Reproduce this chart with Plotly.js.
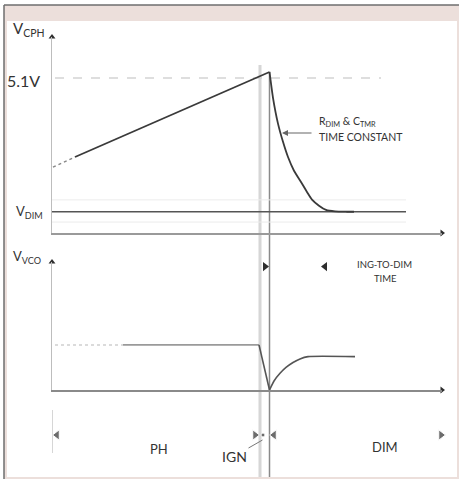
<!DOCTYPE html>
<html>
<head>
<meta charset="utf-8">
<script src="https://cdn.plot.ly/plotly-3.0.1.min.js"></script>
<style>html,body{margin:0;padding:0;background:#fff;}#chart{width:459px;height:479px;}</style>
</head>
<body>
<div id="chart"></div>
<script>
// ---- data (time units, volts) ----
var cphStartT = [0.1, 0.7, 1.5, 2.3];
var cphStartV = [2.17, 2.26, 2.38, 2.5];
var cphRampT = [2.3, 21.75];
var cphRampV = [2.5, 5.30];
var cphDecayT = [21.75, 22.1, 22.6, 23.1, 23.6, 24.2, 24.9, 25.5, 26.0, 26.7, 27.4, 28.3, 29.5, 30.2];
var cphDecayV = [5.30, 4.45, 3.60, 3.00, 2.50, 2.05, 1.68, 1.35, 1.10, 0.90, 0.76, 0.71, 0.70, 0.70];
var vRefT = [0.3, 32.9];
var vRefV = [5.1, 5.1];
var vDimT = [0, 35.4];
var vDimV = [0.70, 0.70];
var guideT = [0, 35.4];
var guideHiV = [1.09, 1.09];
var guideLoV = [0.36, 0.36];

var vcoStartT = [0.3, 7.1];
var vcoStartV = [1.0, 1.0];
var vcoLevelT = [7.1, 20.7];
var vcoLevelV = [1.0, 1.0];
var vcoDropT = [20.7, 21.75];
var vcoDropV = [1.0, 0];
var vcoRecT = [21.75, 22.2, 22.8, 23.4, 24.1, 24.8, 25.6, 30.3];
var vcoRecV = [0, 0.20, 0.37, 0.50, 0.61, 0.69, 0.74, 0.74];

var eventT = [20.8, 21.75];          // IGN start, DIM start
var ingDimT = [21.3, 27.3];          // ING-TO-DIM arrow marks
var ingDimV = [2.74, 2.74];
var phaseT = [0.5, 20.3, 21.1, 22.2, 38.9];
var phaseSym = ['triangle-left', 'triangle-right', 'circle', 'triangle-left', 'triangle-right'];
var phaseSize = [9, 9, 4, 9, 9];

var tMax = 39, cphMax = 6.45, vcoMax = 2.84;

// ---- layout helpers ----
var W = 459, H = 479;
function px(x) { return x / W; }
function py(y) { return 1 - y / H; }

var dark = '#2e2e2e', mid = '#8a8a8a', light = '#d6d6d6';
var FONT = 'Lato, "Noto Sans", sans-serif';

function line(x, y, xa, ya, color, width, dash, shape) {
  return {x: x, y: y, xaxis: xa, yaxis: ya, mode: 'lines', hoverinfo: 'skip',
    line: {color: color, width: width, dash: dash || 'solid', shape: shape || 'linear', smoothing: 0.6}};
}

var traces = [
  line(guideT, guideHiV, 'x', 'y', '#ececec', 1),
  line(guideT, guideLoV, 'x', 'y', '#ececec', 1),
  line(vRefT, vRefV, 'x', 'y', '#d4d4d4', 1.5, 'dash'),
  line(vDimT, vDimV, 'x', 'y', '#555', 1.5),
  line(cphStartT, cphStartV, 'x', 'y', '#888', 1.5, 'dot'),
  line(cphRampT, cphRampV, 'x', 'y', '#3a3a3a', 1.8),
  line(cphDecayT, cphDecayV, 'x', 'y', '#3a3a3a', 1.8, 'solid', 'spline'),
  line(vcoStartT, vcoStartV, 'x2', 'y2', '#d0d0d0', 1.5, 'dot'),
  line(vcoLevelT, vcoLevelV, 'x2', 'y2', '#9a9a9a', 1.8),
  line(vcoDropT, vcoDropV, 'x2', 'y2', '#555', 1.6),
  line(vcoRecT, vcoRecV, 'x2', 'y2', '#555', 1.6, 'solid', 'spline'),
  // axis arrowheads
  {x: [0], y: [cphMax], xaxis: 'x', yaxis: 'y', mode: 'markers', cliponaxis: false, hoverinfo: 'skip',
   marker: {symbol: 'triangle-up', size: 6, color: dark}},
  {x: [tMax], y: [0], xaxis: 'x', yaxis: 'y', mode: 'markers', cliponaxis: false, hoverinfo: 'skip',
   marker: {symbol: 'triangle-right', size: 6, color: dark}},
  {x: [0], y: [vcoMax], xaxis: 'x2', yaxis: 'y2', mode: 'markers', cliponaxis: false, hoverinfo: 'skip',
   marker: {symbol: 'triangle-up', size: 6, color: dark}},
  {x: [tMax], y: [0], xaxis: 'x2', yaxis: 'y2', mode: 'markers', cliponaxis: false, hoverinfo: 'skip',
   marker: {symbol: 'triangle-right', size: 6, color: dark}},
  // ING-TO-DIM marks
  {x: ingDimT, y: ingDimV, xaxis: 'x2', yaxis: 'y2', mode: 'markers', cliponaxis: false, hoverinfo: 'skip',
   marker: {symbol: ['triangle-right', 'triangle-left'], size: 8, color: dark}},
  // phase row marks
  {x: phaseT, y: phaseT.map(function () { return 0.5; }), xaxis: 'x2', yaxis: 'y3', mode: 'markers',
   cliponaxis: false, hoverinfo: 'skip', marker: {symbol: phaseSym, size: phaseSize, color: dark}}
];

var axBase = {showgrid: false, zeroline: false, showticklabels: false, ticks: '', fixedrange: true};
function ax(extra) { return Object.assign({}, axBase, extra); }

var shapes = [
  {type: 'rect', xref: 'paper', yref: 'paper', x0: px(4), x1: 1, y0: 0, y1: py(5), layer: 'below',
   fillcolor: '#ecdfdb', line: {width: 0}},
  {type: 'rect', xref: 'paper', yref: 'paper', x0: px(7), x1: px(457), y0: py(477), y1: py(21), layer: 'below',
   fillcolor: '#ffffff', line: {width: 0}},
  {type: 'line', xref: 'paper', yref: 'paper', x0: px(4), x1: 1, y0: py(5), y1: py(5), layer: 'below',
   line: {color: '#6e6e6e', width: 1.5}},
  {type: 'line', xref: 'paper', yref: 'paper', x0: px(4), x1: px(4), y0: py(5), y1: 0, layer: 'below',
   line: {color: '#6e6e6e', width: 1.5}},
  {type: 'line', xref: 'x', yref: 'paper', x0: eventT[0], x1: eventT[0], y0: py(65), y1: py(477), layer: 'below',
   line: {color: light, width: 3}},
  {type: 'line', xref: 'x', yref: 'paper', x0: eventT[1], x1: eventT[1], y0: py(72), y1: py(477), layer: 'below',
   line: {color: mid, width: 1.5}},
  {type: 'line', xref: 'x', yref: 'paper', x0: 0, x1: 0, y0: py(410), y1: py(453), layer: 'below',
   line: {color: '#c8c8c8', width: 1.5}}
];

function lab(text, x, y, size, xanchor, extra) {
  return Object.assign({text: text, xref: 'paper', yref: 'paper', x: px(x), y: py(y), xanchor: xanchor || 'left',
    yanchor: 'middle', showarrow: false, font: {family: FONT, size: size, color: '#333'}}, extra || {});
}

var annotations = [
  lab('V<sub>CPH</sub>', 11, 29, 15),
  lab('5.1V', 5, 80, 16),
  lab('V<sub>DIM</sub>', 14, 212, 13),
  lab('V<sub>VCO</sub>', 11, 257, 13),
  lab('R<sub>DIM</sub> & C<sub>TMR</sub>', 317, 122, 10.5),
  lab('TIME CONSTANT', 317, 137, 10.5),
  lab('ING-TO-DIM', 384, 264, 9.5, 'center'),
  lab('TIME', 385, 278, 9.5, 'center'),
  lab('PH', 159, 449, 13, 'center'),
  lab('DIM', 385, 447, 13, 'center'),
  // R/C arrow
  {x: 23.0, y: 3.29, xref: 'x', yref: 'y', text: '', showarrow: true, ax: 31, ay: 0,
   arrowhead: 2, arrowsize: 1, arrowwidth: 1.2, arrowcolor: '#666', standoff: 0},
  // IGN label with leader
  {x: 21.05, y: py(440), xref: 'x', yref: 'paper', text: 'IGN', showarrow: true, ax: -28, ay: 16,
   arrowhead: 0, arrowwidth: 1, arrowcolor: '#777', standoff: 0,
   font: {family: FONT, size: 14, color: '#333'}}
];

var layout = {
  width: W, height: H, margin: {l: 0, r: 0, t: 0, b: 0},
  paper_bgcolor: '#ffffff', plot_bgcolor: 'rgba(0,0,0,0)', showlegend: false,
  xaxis: ax({domain: [px(52), px(442)], range: [0, tMax], anchor: 'y', showline: true, linecolor: '#9a9a9a', linewidth: 1.5}),
  yaxis: ax({domain: [py(233), py(37)], range: [0, cphMax], anchor: 'x', showline: true, linecolor: '#bdbdbd', linewidth: 1.5}),
  xaxis2: ax({domain: [px(52), px(442)], range: [0, tMax], anchor: 'y2', showline: true, linecolor: '#8a8a8a', linewidth: 1.8}),
  yaxis2: ax({domain: [py(390), py(262)], range: [0, vcoMax], anchor: 'x2', showline: true, linecolor: '#bdbdbd', linewidth: 1.5}),
  yaxis3: ax({domain: [py(450), py(420)], range: [0, 1], anchor: 'x2', visible: false}),
  shapes: shapes,
  annotations: annotations
};

Plotly.newPlot('chart', traces, layout, {staticPlot: true, displayModeBar: false});
</script>
</body>
</html>
